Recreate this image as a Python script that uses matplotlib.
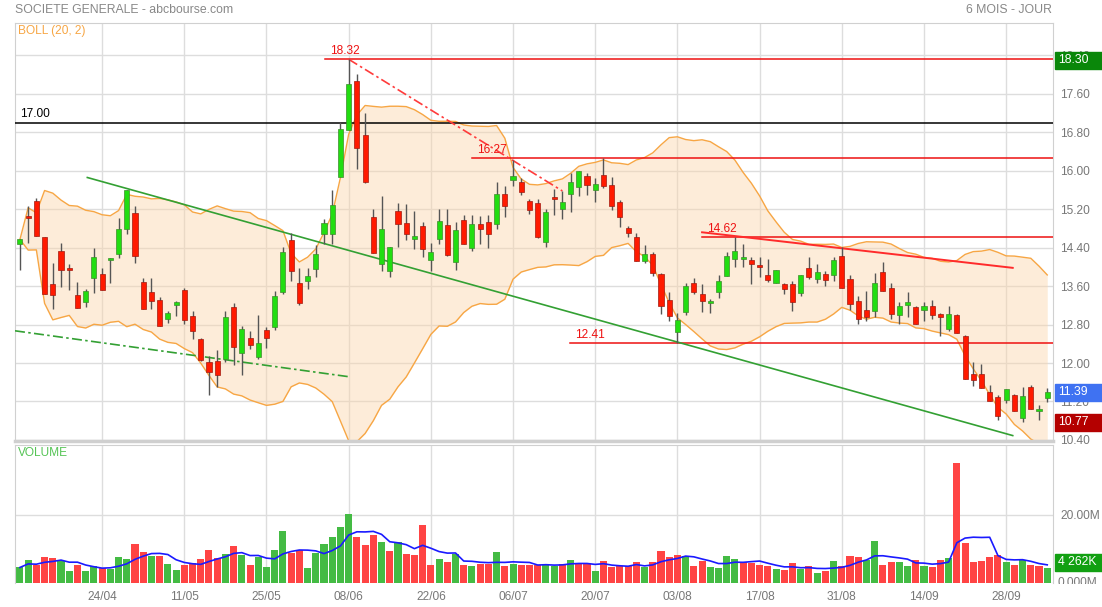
import numpy as np
import pandas as pd
import matplotlib
matplotlib.use("Agg")
import matplotlib.pyplot as plt
from matplotlib.patches import Rectangle

plt.rcParams['font.family'] = ['Liberation Sans', 'DejaVu Sans']

# ---------------------------------------------------------------
# daily data, one entry per trading day
# ---------------------------------------------------------------
opens = [14.47, 15.06, 15.37, 14.62, 13.65, 14.33, 13.95, 13.42, 13.27, 13.77,
         13.86, 14.15, 14.27, 14.78, 15.12, 13.68, 13.47, 13.32, 12.92, 13.20,
         13.51, 12.97, 12.49, 12.03, 12.05, 12.09, 13.16, 12.21, 12.53, 12.12,
         12.68, 12.74, 13.47, 14.55, 13.66, 13.71, 13.95, 14.69, 14.69, 15.87,
         16.85, 17.86, 16.74, 15.04, 14.05, 13.91, 15.16, 14.91, 14.59, 14.85,
         14.15, 14.57, 14.87, 14.10, 14.97, 14.39, 14.90, 14.94, 14.89, 15.51,
         15.81, 15.77, 15.37, 15.32, 14.51, 15.46, 15.21, 15.52, 15.67, 15.89,
         15.59, 15.91, 15.70, 15.35, 14.81, 14.63, 14.13, 14.27, 13.86, 13.32,
         12.64, 13.06, 13.67, 13.44, 13.25, 13.48, 13.81, 14.16, 14.17, 14.14,
         14.04, 13.84, 13.67, 13.64, 13.64, 13.45, 13.98, 13.75, 13.85, 13.83,
         14.23, 13.75, 13.30, 13.10, 13.09, 13.90, 13.56, 13.00, 13.21, 13.17,
         13.10, 13.19, 13.02, 12.70, 13.00, 12.56, 11.78, 11.77, 11.39, 11.30,
         11.23, 11.33, 10.85, 11.51, 11.00, 11.27]
highs = [14.57, 15.27, 15.43, 14.62, 14.09, 14.50, 14.05, 13.68, 13.54, 14.39,
         13.98, 14.18, 15.01, 15.60, 15.26, 13.76, 13.76, 13.37, 13.09, 13.30,
         13.56, 13.09, 12.51, 12.15, 12.28, 13.09, 13.24, 12.76, 12.66, 12.99,
         12.75, 13.49, 14.41, 14.71, 13.97, 13.98, 14.45, 15.00, 15.59, 17.02,
         18.32, 18.02, 17.20, 15.20, 15.48, 14.42, 15.32, 15.31, 15.17, 14.94,
         14.50, 15.20, 15.20, 14.93, 15.08, 15.08, 15.06, 15.09, 15.76, 15.69,
         16.23, 15.86, 15.41, 15.41, 15.21, 15.63, 15.58, 15.96, 15.99, 15.95,
         15.84, 16.27, 15.88, 15.40, 14.86, 14.70, 14.45, 14.32, 13.88, 13.48,
         13.04, 13.67, 13.76, 13.65, 13.34, 13.83, 14.32, 14.62, 14.47, 14.21,
         14.20, 14.16, 13.93, 13.67, 13.71, 13.83, 14.21, 14.06, 13.91, 14.20,
         14.42, 13.83, 13.40, 13.50, 13.87, 14.10, 13.66, 13.26, 13.47, 13.19,
         13.26, 13.31, 13.05, 13.19, 13.02, 12.59, 12.03, 11.98, 11.54, 11.33,
         11.46, 11.35, 11.51, 11.54, 11.13, 11.49]
lows = [13.93, 14.50, 14.64, 13.44, 13.13, 13.58, 13.51, 13.15, 13.16, 13.45,
        13.51, 13.67, 14.18, 14.68, 14.09, 13.13, 13.13, 12.78, 12.84, 12.97,
        12.81, 12.49, 12.05, 11.34, 11.51, 12.03, 11.96, 11.75, 12.30, 12.09,
        12.31, 12.69, 13.43, 13.70, 13.21, 13.54, 13.80, 14.47, 14.47, 15.87,
        16.85, 16.04, 15.74, 14.29, 13.91, 13.80, 14.41, 14.55, 14.38, 14.20,
        13.92, 14.48, 14.23, 13.94, 14.48, 14.34, 14.48, 14.40, 14.78, 15.03,
        15.69, 15.49, 15.11, 14.60, 14.42, 15.07, 15.00, 15.14, 15.47, 15.49,
        15.35, 15.65, 15.19, 14.83, 14.62, 14.13, 14.09, 13.81, 13.01, 12.88,
        12.41, 12.99, 13.43, 13.06, 13.04, 13.36, 13.81, 14.00, 14.00, 13.65,
        13.79, 13.69, 13.67, 13.43, 13.08, 13.40, 13.75, 13.66, 13.61, 13.71,
        13.57, 13.10, 12.82, 12.87, 12.96, 13.50, 12.91, 12.82, 12.96, 12.82,
        12.87, 12.91, 12.57, 12.67, 12.62, 11.67, 11.53, 11.49, 11.20, 10.81,
        11.16, 11.01, 10.78, 11.04, 10.81, 11.18]
closes = [14.57, 15.01, 14.64, 13.44, 13.42, 13.93, 13.93, 13.15, 13.49, 14.20,
          13.51, 14.18, 14.78, 15.60, 14.23, 13.13, 13.30, 12.78, 13.04, 13.26,
          12.90, 12.67, 12.07, 11.81, 11.75, 12.95, 12.33, 12.71, 12.38, 12.42,
          12.52, 13.40, 14.30, 13.91, 13.25, 13.81, 14.27, 14.91, 15.29, 16.86,
          17.81, 16.47, 15.77, 14.29, 14.78, 14.42, 14.90, 14.69, 14.64, 14.37,
          14.32, 14.95, 14.24, 14.76, 14.48, 14.90, 14.79, 14.69, 15.52, 15.26,
          15.89, 15.55, 15.18, 14.63, 15.15, 15.42, 15.34, 15.77, 15.99, 15.70,
          15.72, 15.68, 15.26, 15.04, 14.70, 14.13, 14.27, 13.88, 13.18, 12.97,
          12.90, 13.60, 13.48, 13.29, 13.30, 13.71, 14.23, 14.33, 14.20, 14.07,
          14.00, 13.72, 13.93, 13.55, 13.27, 13.83, 13.78, 13.89, 13.73, 14.14,
          13.57, 13.23, 12.91, 12.95, 13.66, 13.50, 13.02, 13.19, 13.26, 12.82,
          13.19, 13.00, 12.95, 13.02, 12.62, 11.67, 11.64, 11.49, 11.20, 10.90,
          11.46, 11.01, 11.32, 11.04, 11.04, 11.39]

# volume in millions of shares, and its colour (g = up, r = down)
volumes = [4.5, 6.6, 5.3, 7.7, 7.3, 6.5, 3.5, 5.3, 3.5, 4.8,
           4.4, 4.0, 7.6, 7.1, 11.4, 9.1, 7.8, 7.9, 5.4, 3.7,
           5.1, 5.9, 7.0, 9.6, 7.4, 8.4, 10.9, 8.1, 5.3, 7.5,
           4.5, 9.8, 15.4, 8.9, 9.7, 4.3, 8.7, 11.4, 13.4, 16.5,
           20.4, 13.5, 11.2, 14.2, 12.1, 9.5, 11.9, 8.5, 8.3, 17.0,
           5.2, 7.0, 6.2, 8.5, 5.1, 4.8, 5.6, 5.6, 9.0, 5.0,
           5.6, 5.1, 5.2, 5.2, 5.5,
           5.0, 5.4, 6.7, 5.8, 5.5, 3.6, 6.5, 4.6, 4.8, 4.8,
           6.1, 4.5, 6.1, 9.5, 7.6, 8.1, 8.0, 5.0, 6.3, 4.7,
           4.3, 8.0, 7.0, 6.1, 5.7, 5.2, 4.8, 4.0, 3.7, 5.7,
           3.9, 5.0, 2.8, 3.5, 6.4, 5.0, 7.9, 7.5, 6.8, 12.4,
           5.2, 6.2, 6.0, 5.0, 6.8, 4.9, 4.7, 6.8, 7.2, 35.4,
           11.8, 6.0, 6.4, 7.5, 8.3, 6.2, 5.3, 6.7, 5.1, 5.0, 4.262]
vol_dir = ("ggrrrggrgg" "rgggrrgrgg" "rrrrrgrgrg" "gggrrggggg" "grrrgrgrrr"
           "rgrgrgrrgr" "grrrg" "grgrrgrrrr" "rgrrrrgrrg" "gggrrrrgrr"
           "grgrgrrrgg" "rrggrgrrgr" "rrrrrgrgrrg")

dates = ['24/04', '11/05', '25/05', '08/06', '22/06', '06/07',
         '20/07', '03/08', '17/08', '31/08', '14/09', '28/09']
date_pos = [10, 20, 30, 40, 50, 60, 70, 80, 90, 100, 110, 120]

# levels drawn on the chart: value, first day of the line, label
levels = [18.32, 16.27, 14.62, 12.41]
level_start = [37.1, 55.0, 83.0, 66.9]

# trend lines (day, price) pairs
red_dash = ([40, 66], [18.32, 15.58])
red_slope = ([83.0, 120.8], [14.72, 13.98])
green_solid = ([8.2, 120.8], [15.86, 10.49])
green_dash = ([-0.6, 40], [12.67, 11.715])

n = len(closes)
assert len(opens) == len(highs) == len(lows) == len(volumes) == len(vol_dir) == n
idx = np.arange(n)

# Bollinger (20, 2) and volume average
cs = pd.Series(closes)
mid = cs.rolling(20, min_periods=1).mean()
sd = cs.rolling(20, min_periods=1).std(ddof=0)
upper = mid + 2 * sd
lower = mid - 2 * sd
vol_ma = pd.Series(volumes).rolling(5, min_periods=1).mean()

# ---------------------------------------------------------------
# layout in pixels
# ---------------------------------------------------------------
W, H = 1102, 607
fig = plt.figure(figsize=(W / 100, H / 100), dpi=100)
fig.patch.set_facecolor('white')


def fx(px):
    return px / W


def fy(py):
    return 1 - py / H


ax = fig.add_axes([fx(15), fy(441), fx(1053) - fx(15), fy(23) - fy(441)])
axv = fig.add_axes([fx(15), fy(583), fx(1053) - fx(15), fy(445) - fy(583)], sharex=ax)

GRID = '#dddddd'
TXT = '#777777'
GREEN = '#22dd11'
RED = '#ff1a00'

ax.set_xlim(-0.6, 125.7)
ax.set_ylim(10.377, 19.075)
axv.set_ylim(-0.09, 40.68)

for a in (ax, axv):
    a.set_facecolor('white')
    for s in a.spines.values():
        s.set_color('#d0d0d0')
    a.set_xticks(date_pos)
    a.grid(True, color=GRID, lw=1, zorder=0)
    a.set_axisbelow(True)
    a.tick_params(axis='both', length=0, labelcolor=TXT, labelsize=8.6)
    a.yaxis.tick_right()
axv.spines['bottom'].set_visible(False)
ax.spines['bottom'].set_color('#cfcfcf')
ax.spines['bottom'].set_linewidth(2.5)

ax.set_yticks(np.arange(10.40, 18.41, 0.80))
ax.set_yticklabels([f"{v:.2f}" for v in np.arange(10.40, 18.41, 0.80)])
ax.tick_params(axis='y', pad=5)
ax.tick_params(axis='x', labelbottom=False)

axv.set_yticks([0, 20])
axv.set_yticklabels(['', '20.00M'])
axv.tick_params(axis='y', pad=5)
axv.set_xticklabels(dates)
axv.tick_params(axis='x', pad=6)

# Bollinger band
ax.fill_between(idx, lower, upper, color='#fbd6ab', alpha=0.45, lw=0, zorder=1)
ax.plot(idx, upper, color='#f7a644', lw=1, zorder=2)
ax.plot(idx, lower, color='#f7a644', lw=1, zorder=2)

# levels and trend lines
ax.axhline(17.00, color='black', lw=1.1, zorder=3)
ax.text(0.0, 17.00 + 0.06, '17.00', color='black', fontsize=8.6, va='bottom', zorder=6)
for lv, st in zip(levels, level_start):
    ax.plot([st, 125.7], [lv, lv], color='#ee1111', lw=1.1, zorder=3)
    ax.text(st + 0.6, lv + 0.04, f"{lv:.2f}", color='#ee1111', fontsize=8.6,
            va='bottom', zorder=6)

ax.plot(*red_dash, color='#ff3b3b', lw=1.2, dashes=(6, 2, 1.5, 2), zorder=3)
ax.plot(*red_slope, color='#ff2b2b', lw=1.4, zorder=3)
ax.plot(*green_solid, color='#33a033', lw=1.2, zorder=3)
ax.plot(*green_dash, color='#33a033', lw=1.2, dashes=(6, 2, 1.5, 2), zorder=3)

# candles
o = np.array(opens)
c = np.array(closes)
up = c >= o
ax.vlines(idx, lows, highs, color='#555555', lw=1, zorder=4)
bottoms = np.minimum(o, c)
heights = np.maximum(np.abs(c - o), 0.04)
ax.bar(idx, heights, bottom=bottoms, width=0.62,
       color=np.where(up, GREEN, RED),
       edgecolor=np.where(up, '#3c8c2c', '#a01a10'), lw=0.5, zorder=5)

# volume
vcol = ['#44bb44' if d == 'g' else '#ff4444' for d in vol_dir]
axv.bar(idx, volumes, width=0.86, color=vcol, lw=0, zorder=2)
axv.plot(idx, vol_ma, color='#1a1aff', lw=1.2, zorder=3)

# header texts
fig.text(fx(15), fy(10), 'SOCIETE GENERALE - abcbourse.com', color='#888888',
         fontsize=8.8, va='center', ha='left')
fig.text(fx(1052), fy(10), '6 MOIS - JOUR', color='#888888',
         fontsize=8.8, va='center', ha='right')
fig.text(fx(18), fy(31), 'BOLL (20, 2)', color='#f7a644', fontsize=8.6, va='center')
fig.text(fx(18), fy(453), 'VOLUME', color='#55c455', fontsize=8.6, va='center')

# 0.000M label, clipped at the panel bottom
clip = Rectangle((0, fy(584)), 1, 1, transform=fig.transFigure, visible=False)
fig.patches.append(clip)
t0 = fig.text(fx(1058), fy(582.7), '0.000M', color=TXT, fontsize=8.6, va='center')
t0.set_clip_path(clip)


# value boxes on the right
def value_box(axis, value, label, color):
    py = axis.transData.transform((0, value))[1]
    fig.patches.append(Rectangle((fx(1055), (py - 8.5) / H), fx(47), 17 / H,
                                 transform=fig.transFigure, color=color,
                                 zorder=10))
    fig.text(fx(1058), py / H, label, color='white', fontsize=8.8,
             va='center', ha='left', zorder=11)


value_box(ax, 18.30, '18.30', '#0a870a')
value_box(ax, closes[-1], f"{closes[-1]:.2f}", '#3f72f2')
value_box(ax, 10.77, '10.77', '#b40000')
value_box(axv, 6.05, '4 262K', '#12a012')

fig.savefig('out.png', dpi=100)
